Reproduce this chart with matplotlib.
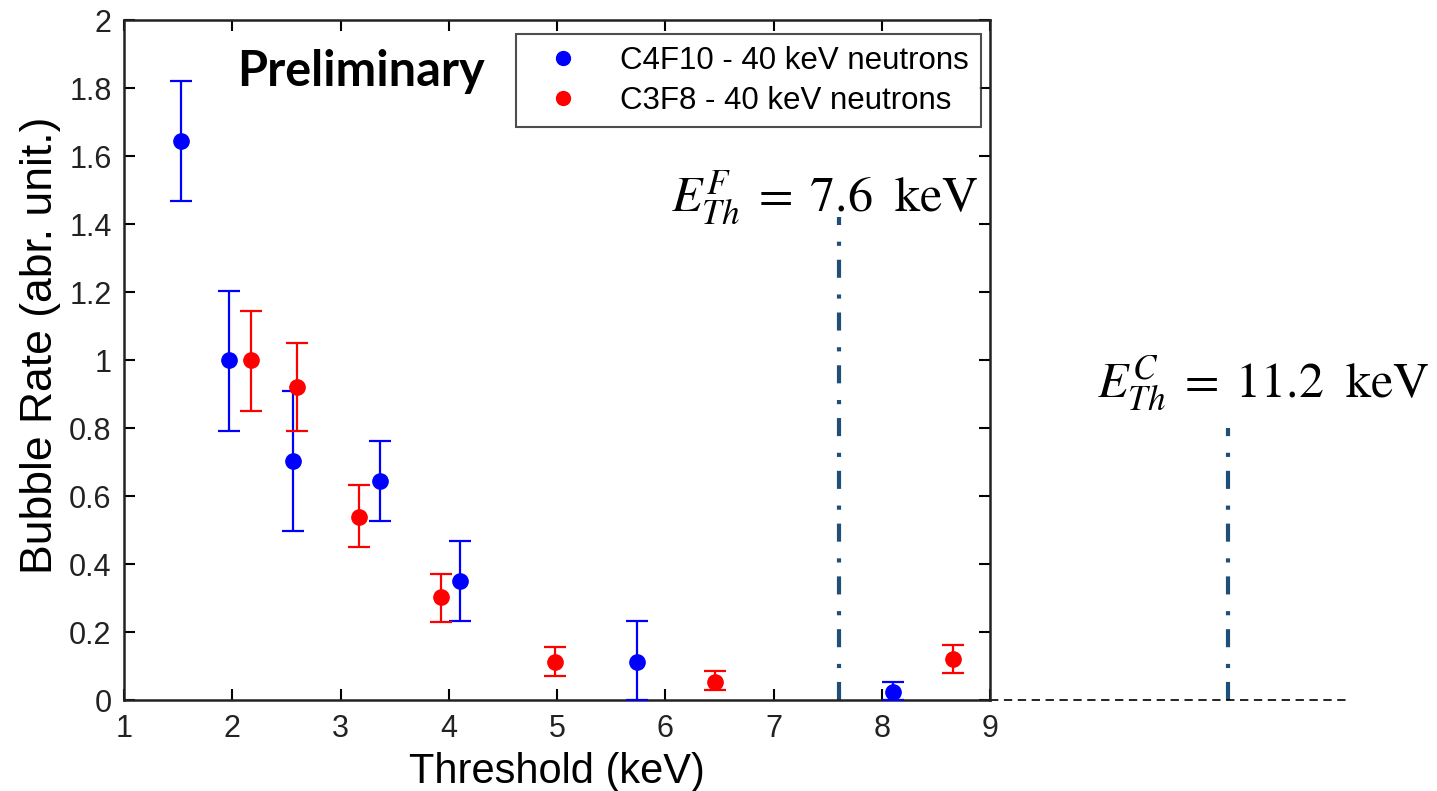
import matplotlib
matplotlib.use("Agg")
import matplotlib.pyplot as plt
from matplotlib.lines import Line2D

# Bubble rate vs. threshold energy for two target liquids
c4f10_thr = [1.53, 1.97, 2.56, 3.36, 4.10, 5.74, 8.10]
c4f10_rate = [1.644, 1.000, 0.703, 0.643, 0.349, 0.113, 0.024]
c4f10_hi = [1.822, 1.204, 0.909, 0.761, 0.467, 0.231, 0.054]
c4f10_lo = [1.469, 0.792, 0.496, 0.526, 0.231, 0.000, 0.000]

c3f8_thr = [2.17, 2.60, 3.17, 3.93, 4.98, 6.46, 8.66]
c3f8_rate = [1.000, 0.920, 0.537, 0.302, 0.113, 0.054, 0.120]
c3f8_hi = [1.144, 1.049, 0.631, 0.372, 0.155, 0.084, 0.161]
c3f8_lo = [0.850, 0.791, 0.449, 0.230, 0.072, 0.029, 0.079]

legend_labels = ["C4F10 - 40 keV neutrons", "C3F8 - 40 keV neutrons"]
x_ticks = [1, 2, 3, 4, 5, 6, 7, 8, 9]
y_ticks = [0, 0.2, 0.4, 0.6, 0.8, 1, 1.2, 1.4, 1.6, 1.8, 2]
y_tick_labels = ["0", "0.2", "0.4", "0.6", "0.8", "1", "1.2", "1.4", "1.6", "1.8", "2"]

# Threshold energies for fluorine and carbon recoils
e_th_fluorine = 7.6
e_th_carbon = 11.2

plt.rcParams["font.family"] = ["Liberation Sans", "DejaVu Sans"]
plt.rcParams["mathtext.fontset"] = "stix"
plt.rcParams["lines.scale_dashes"] = False

fig = plt.figure(figsize=(14.37, 7.91), dpi=100)
ax = fig.add_axes([0.0863, 0.115, 0.6027, 0.8597])


def draw_series(x, y, lo, hi, color):
    yerr = [[v - l for v, l in zip(y, lo)], [h - v for v, h in zip(y, hi)]]
    ax.errorbar(x, y, yerr=yerr, fmt="o", color=color, ecolor=color,
                markersize=11, elinewidth=1.6, capsize=8, capthick=1.6,
                zorder=3)


draw_series(c4f10_thr, c4f10_rate, c4f10_lo, c4f10_hi, (0, 0, 1))
draw_series(c3f8_thr, c3f8_rate, c3f8_lo, c3f8_hi, (1, 0, 0))

ax.set_xlim(1, 9)
ax.set_ylim(0, 2)
ax.set_xticks(x_ticks)
ax.set_xticklabels([str(t) for t in x_ticks])
ax.set_yticks(y_ticks)
ax.set_yticklabels(y_tick_labels)
ax.tick_params(direction="in", length=8, width=1.5, top=True, right=True,
               labelsize=22, labelcolor="#222222")
ax.tick_params(axis="x", pad=10)
ax.tick_params(axis="y", pad=9)
for s in ax.spines.values():
    s.set_linewidth(1.8)
    s.set_color("#222222")

ax.set_xlabel("Threshold (keV)", fontsize=30, labelpad=6)
ax.set_ylabel("Bubble Rate (abr. unit.)", fontsize=32)
ax.yaxis.set_label_coords(-0.073, 0.522)

# Threshold markers (dash-dot), the carbon one lies past the axis range
navy = "#1f4e79"
dashdot = (0, (13, 10, 3, 12))
ax.plot([e_th_fluorine, e_th_fluorine], [0, 1.42], color=navy, lw=3,
        linestyle=dashdot, zorder=2)
ax.plot([e_th_carbon, e_th_carbon], [0, 0.80], color=navy, lw=3,
        linestyle=dashdot, clip_on=False, zorder=2)
ax.plot([9, 12.33], [0, 0], color="black", lw=1.2, linestyle=(0, (6, 4)),
        clip_on=False)

ax.text(7.47, 1.44, r"$E_{Th}^{F}\;=\;7.6\;\ \mathrm{keV}$",
        fontsize=36, ha="center", va="baseline")
ax.text(11.52, 0.893, r"$E_{Th}^{C}\;=\;11.2\;\ \mathrm{keV}$",
        fontsize=36, ha="center", va="baseline", clip_on=False)

ax.text(0.131, 0.925, "Preliminary", transform=ax.transAxes,
        fontsize=35, fontweight="bold", family=["Lato", "DejaVu Sans"],
        ha="left", va="center")

handles = [Line2D([], [], marker="o", linestyle="none", color=(0, 0, 1),
                  markersize=10),
           Line2D([], [], marker="o", linestyle="none", color=(1, 0, 0),
                  markersize=10)]
leg = ax.legend(handles, legend_labels, loc="upper right",
                bbox_to_anchor=(0.9895, 0.979), fontsize=22.5, frameon=True,
                fancybox=False, edgecolor="#222222", handletextpad=0.75,
                borderpad=0.38, labelspacing=0.3, handlelength=2.2,
                borderaxespad=0.0)
leg.get_frame().set_linewidth(1.5)

fig.savefig("out.png", dpi=100)
